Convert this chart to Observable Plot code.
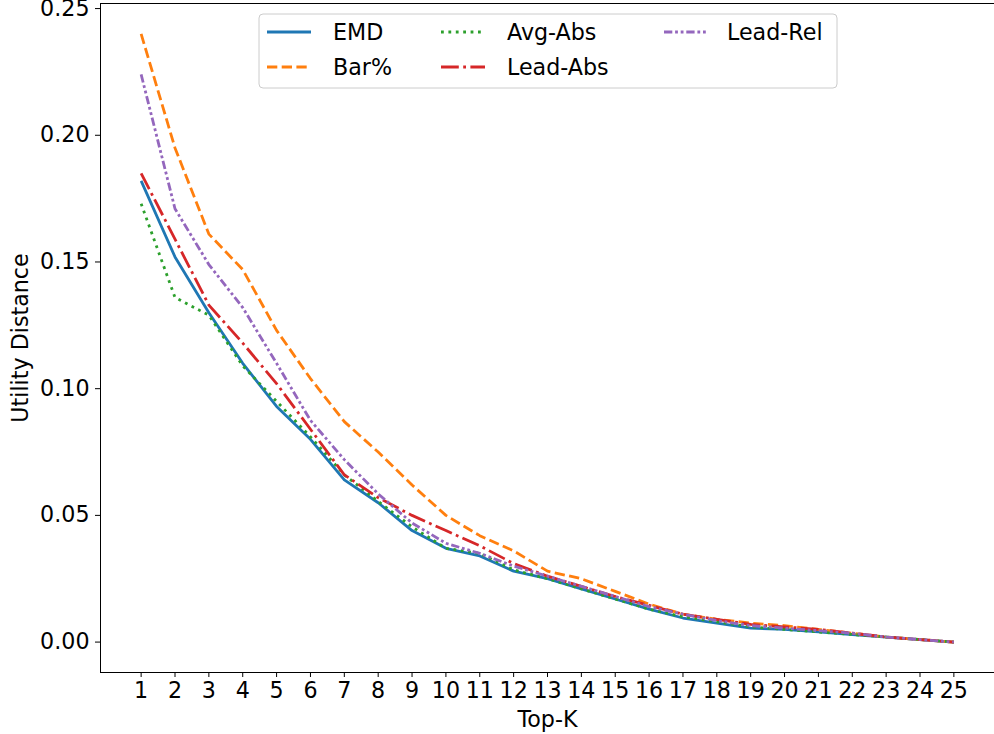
<!DOCTYPE html>
<html><head><meta charset="utf-8">
<script src="https://cdn.jsdelivr.net/npm/d3@7"></script>
<script src="https://cdn.jsdelivr.net/npm/@observablehq/plot@0.6"></script>
<style>body{margin:0;background:#fff} #chart{width:994px;height:734px}</style>
</head><body><div id="chart"></div>
<script>
const topK = [1,2,3,4,5,6,7,8,9,10,11,12,13,14,15,16,17,18,19,20,21,22,23,24,25];
const emd     = [0.182,0.152,0.130,0.110,0.093,0.080,0.064,0.055,0.044,0.037,0.034,0.028,0.025,0.021,0.017,0.013,0.0095,0.0075,0.0055,0.005,0.004,0.003,0.002,0.001,0];
const barPct  = [0.240,0.195,0.161,0.147,0.123,0.104,0.087,0.075,0.062,0.050,0.042,0.036,0.028,0.025,0.020,0.015,0.011,0.009,0.0075,0.0065,0.005,0.0035,0.002,0.001,0];
const avgAbs  = [0.173,0.136,0.129,0.109,0.095,0.081,0.066,0.0555,0.0455,0.037,0.035,0.0285,0.025,0.021,0.017,0.013,0.010,0.008,0.006,0.005,0.004,0.003,0.002,0.001,0];
const leadAbs = [0.185,0.159,0.133,0.118,0.102,0.084,0.066,0.057,0.050,0.044,0.038,0.031,0.026,0.022,0.018,0.0145,0.011,0.009,0.007,0.006,0.005,0.0035,0.002,0.001,0];
const leadRel = [0.224,0.171,0.149,0.132,0.110,0.0875,0.072,0.0585,0.047,0.039,0.035,0.030,0.026,0.022,0.018,0.014,0.011,0.0085,0.0065,0.0055,0.0045,0.0035,0.002,0.001,0];
const seriesNames = ["EMD","Bar%","Avg-Abs","Lead-Abs","Lead-Rel"];
const seriesValues = [emd, barPct, avgAbs, leadAbs, leadRel];
const seriesColors = ["#1f77b4","#ff7f0e","#2ca02c","#d62728","#9467bd"];
const seriesDashes = [null,"10.3,4.4","2.8,4.6","17.8,4.4,2.8,4.4","8.3,2.8,2.8,2.8,2.8,2.8"];
const yTicks = [0,0.05,0.10,0.15,0.20,0.25];

const rows = seriesNames.flatMap((s,i)=>topK.map((k,j)=>({series:s,k,v:seriesValues[i][j]})));

const plot = Plot.plot({
  width:994, height:734,
  marginLeft:100, marginRight:0, marginTop:3, marginBottom:62,
  style:{fontFamily:"DejaVu Sans", fontSize:"22.2px", color:"#000", background:"#fff", overflow:"visible"},
  x:{domain:[-0.2,26.2]},
  y:{domain:[-0.012,0.252]},
  marks:[
    ...seriesNames.map((s,i)=>Plot.line(rows.filter(r=>r.series===s),{
      x:"k", y:"v", stroke:seriesColors[i], strokeWidth:2.8,
      strokeDasharray:seriesDashes[i], strokeLinecap:"butt", strokeLinejoin:"round"})),
    Plot.frame({stroke:"#000", strokeWidth:1}),
    Plot.axisX(topK,{tickSize:5, tickPadding:5, tickFormat:d=>String(d), label:"Top-K",
      labelAnchor:"center", labelArrow:"none", labelOffset:54}),
    Plot.axisY(yTicks,{tickSize:5, tickPadding:6, tickFormat:d3.format(".2f"), label:"Utility Distance",
      labelAnchor:"center", labelArrow:"none", labelOffset:88})
  ]
});
document.getElementById("chart").appendChild(plot);

// legend inside plot area
const svg = d3.select(plot.tagName.toLowerCase()==="svg" ? plot : plot.querySelector("svg"));
const lg = svg.append("g").attr("font-family","DejaVu Sans").attr("font-size",22.2).attr("text-anchor","start");
lg.append("rect").attr("x",259).attr("y",14).attr("width",578).attr("height",74)
  .attr("rx",4).attr("fill","#fff").attr("fill-opacity",0.8).attr("stroke","#cccccc").attr("stroke-width",1);
const legendPos = [
  {hx:267, tx:333, y:32},
  {hx:267, tx:333, y:67},
  {hx:441, tx:507, y:32},
  {hx:441, tx:507, y:67},
  {hx:664, tx:727, y:32}
];
seriesNames.forEach((s,i)=>{
  const p = legendPos[i];
  lg.append("line").attr("x1",p.hx).attr("x2",p.hx+44).attr("y1",p.y).attr("y2",p.y)
    .attr("stroke",seriesColors[i]).attr("stroke-width",2.8)
    .attr("stroke-dasharray",seriesDashes[i]).attr("stroke-linecap","butt");
  lg.append("text").attr("x",p.tx).attr("y",p.y).attr("dy","0.35em").attr("fill","#000")
    .attr("text-anchor","start").text(s);
});
</script>
</body></html>
